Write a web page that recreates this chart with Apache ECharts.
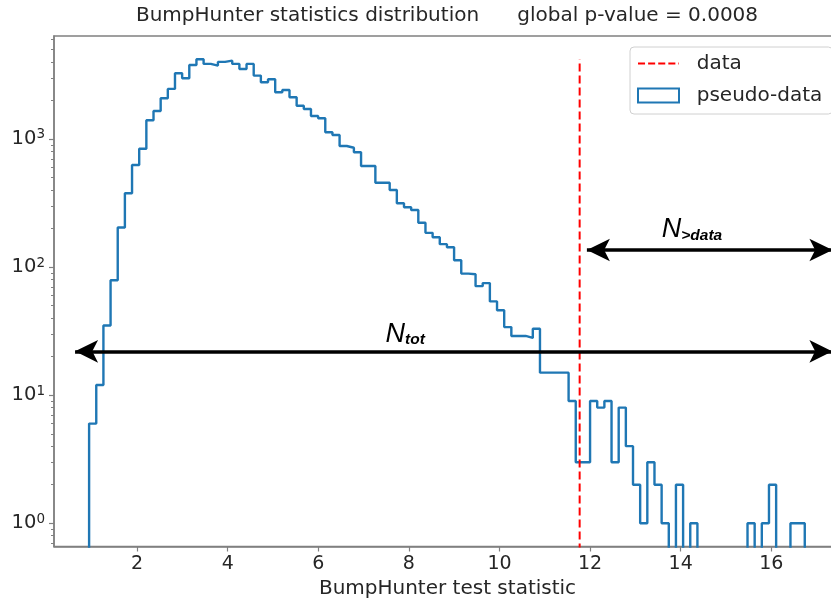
<!DOCTYPE html>
<html>
<head>
<meta charset="utf-8">
<script src="https://cdn.jsdelivr.net/npm/echarts@6/dist/echarts.min.js"></script>
<style>
  html, body { margin: 0; padding: 0; background: #fff; }
  #chart { width: 831px; height: 599px; }
</style>
</head>
<body>
<div id="chart"></div>
<script>
// pseudo-data histogram, 100 equal bins
const binStart = 0.94
const binWidth = 0.158
const counts = [
  6, 12, 35, 79, 204, 377, 627, 840, 1400, 1655,
  2080, 2460, 3260, 2980, 3785, 4195, 3855, 3740, 3997, 4090,
  3855, 3523, 3855, 3125, 2775, 2927, 2317, 2415, 2118, 1820,
  1715, 1513, 1452, 1128, 1075, 881, 855, 787, 615, 615,
  456, 456, 400, 315, 293, 279, 222, 185, 171, 151,
  143, 113, 89, 88, 71, 75, 54, 46, 34, 29,
  29, 28, 33, 15, 15, 15, 15, 9, 3, 3,
  9, 8, 9, 3, 8, 4, 2, 1, 3, 2,
  1, 0, 2, 0, 1, 0, 0, 0, 0, 0,
  0, 0, 1, 0, 1, 2, 0, 0, 1, 1
]
// observed test statistic
const dataValue = 11.77

const xTicks = [2, 4, 6, 8, 10, 12, 14, 16]
const yTicks = [1, 10, 100, 1000]

// annotation arrows: [x left tip, x right tip, y]
const totArrow = [0.63, 17.35, 22]
const dataArrow = [11.93, 17.35, 136]

const FLOOR = 0.01  // stands in for zero on the log axis

// log minor ticks 2..9 per decade
let minorTicks = []
for (let d = 0.1; d <= 1000; d *= 10) {
  for (let m = 2; m <= 9; m++) {
    let v = +(m * d).toPrecision(3)
    if (v > 0.659 && v < 6368) minorTicks.push(v)
  }
}

// step outline of the histogram
let steps = [[binStart, FLOOR]]
counts.forEach((c, i) => {
  let y = c > 0 ? c : FLOOR
  steps.push([binStart + i * binWidth, y])
  steps.push([binStart + (i + 1) * binWidth, y])
})
steps.push([binStart + counts.length * binWidth, FLOOR])

const maxCount = Math.max(...counts)

const font = 'DejaVu Sans'
const spine = '#808080'
const txt = '#262626'

let myChart = echarts.init(document.getElementById('chart'), null, { renderer: 'canvas' })

let option = {
  animation: false,
  backgroundColor: '#fff',
  title: {
    text: 'BumpHunter statistics distribution      global p-value = 0.0008',
    left: 447,
    textAlign: 'center',
    top: 6,
    padding: 0,
    textStyle: { fontFamily: font, fontSize: 20, fontWeight: 'normal', color: txt }
  },
  legend: {
    orient: 'vertical',
    left: 630,
    top: 47,
    padding: [5, 10, 7, 7],
    itemGap: 9,
    itemWidth: 41,
    itemHeight: 14,
    borderColor: '#d0d0d0',
    borderWidth: 1,
    borderRadius: 4,
    backgroundColor: 'rgba(255,255,255,0.8)',
    formatter: '  {name}',
    textStyle: { fontFamily: font, fontSize: 20, color: txt, lineHeight: 23 },
    data: [
      {
        name: 'data',
        icon: 'path://M0,0H7.4V2H0Z M10.6,0H18V2H10.6Z M21.2,0H28.6V2H21.2Z M31.8,0H39.2V2H31.8Z M42.4,0H43V2H42.4Z',
        itemStyle: { color: 'red' }
      },
      {
        name: 'pseudo-data',
        icon: 'rect',
        itemStyle: { color: '#fff', borderColor: '#1f77b4', borderWidth: 2 }
      }
    ]
  },
  grid: {
    left: 54,
    right: -10,
    top: 36,
    bottom: 52.5,
    show: true,
    borderColor: spine,
    borderWidth: 1.5,
    outerBoundsMode: 'none'
  },
  xAxis: {
    type: 'value',
    min: 0.165,
    max: 17.54,
    name: 'BumpHunter test statistic',
    nameLocation: 'middle',
    nameGap: 31,
    nameTextStyle: { fontFamily: font, fontSize: 20, color: txt },
    axisLine: { show: true, onZero: false, lineStyle: { color: spine, width: 1.5 } },
    axisTick: { show: true, length: 5, customValues: xTicks, lineStyle: { color: spine, width: 1.2 } },
    axisLabel: { customValues: xTicks, fontFamily: font, fontSize: 19, color: txt, margin: 8 },
    splitLine: { show: false }
  },
  yAxis: [
    {
      type: 'log',
      logBase: 10,
      min: 0.659,
      max: 6368,
      axisLine: { show: true, lineStyle: { color: spine, width: 1.5 } },
      axisTick: { show: true, length: 5, customValues: yTicks, lineStyle: { color: spine, width: 1.2 } },
      axisLabel: {
        customValues: yTicks,
        margin: 9,
        formatter: v => '{b|10}{s|' + Math.round(Math.log10(v)) + '}',
        rich: {
          b: { fontFamily: font, fontSize: 19.5, color: txt, lineHeight: 22 },
          s: { fontFamily: font, fontSize: 13.5, color: txt, verticalAlign: 'top', lineHeight: 13 }
        }
      },
      splitLine: { show: false }
    },
    {
      type: 'log',
      logBase: 10,
      min: 0.659,
      max: 6368,
      position: 'left',
      axisLine: { show: false },
      axisTick: { show: true, length: 3, customValues: minorTicks, lineStyle: { color: spine, width: 1 } },
      axisLabel: { show: false },
      splitLine: { show: false }
    }
  ],
  series: [
    {
      name: 'pseudo-data',
      type: 'line',
      data: steps,
      symbol: 'none',
      clip: true,
      color: '#1f77b4',
      lineStyle: { color: '#1f77b4', width: 2.4 },
      silent: true,
      markLine: {
        silent: true,
        symbol: ['arrow', 'arrow'],
        symbolSize: [17, 23],
        label: { show: false },
        lineStyle: { color: '#000', width: 3.5, type: 'solid' },
        data: [
          [{ coord: [totArrow[0], totArrow[2]] }, { coord: [totArrow[1], totArrow[2]] }],
          [{ coord: [dataArrow[0], dataArrow[2]] }, { coord: [dataArrow[1], dataArrow[2]] }]
        ]
      },
      markPoint: {
        silent: true,
        symbol: 'circle',
        symbolSize: 1,
        itemStyle: { color: 'transparent' },
        label: {
          show: true,
          position: 'inside',
          rich: {
            n: { fontFamily: 'Liberation Sans', fontSize: 27, fontStyle: 'italic', color: '#000' },
            s: { fontFamily: 'Liberation Sans', fontSize: 15.5, fontStyle: 'italic', fontWeight: 'bold', color: '#000', verticalAlign: 'bottom' }
          }
        },
        data: [
          { coord: [7.92, 30], label: { formatter: '{n|N}{s|tot}' } },
          { coord: [14.25, 195], label: { formatter: '{n|N}{s|>data}' } }
        ]
      }
    },
    {
      name: 'data',
      type: 'line',
      data: [[dataValue, FLOOR], [dataValue, maxCount]],
      symbol: 'none',
      clip: true,
      color: 'red',
      silent: true,
      lineStyle: { color: 'red', width: 2, type: [8, 4] }
    }
  ]
}

myChart.setOption(option, true)
</script>
</body>
</html>
